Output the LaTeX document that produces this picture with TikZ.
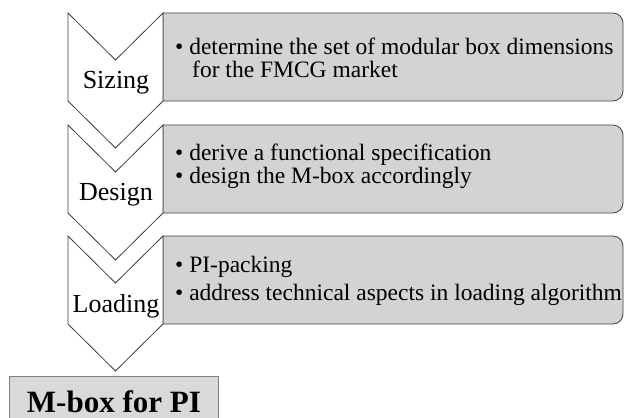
\documentclass[tikz,border=0pt]{standalone}
\usepackage{fontspec}
\setmainfont{Liberation Serif}
\definecolor{panelgray}{RGB}{211,211,211}
\definecolor{linegray}{RGB}{64,64,64}
\definecolor{resultgray}{RGB}{217,217,217}

\begin{document}
\begin{tikzpicture}[x=1pt,y=-1pt,
    chev/.style={draw=linegray,fill=white,line width=0.8pt,line join=miter},
    panel/.style={draw=linegray,fill=panelgray,line width=0.8pt},
    stage/.style={inner sep=0pt,anchor=base,font=\fontsize{26}{26}\selectfont},
    item/.style={inner sep=0pt,anchor=base west,font=\fontsize{23.5}{23.5}\selectfont}]
    \useasboundingbox (0,0) rectangle (625,418);
    \clip (0,0) rectangle (625,418);

    \draw[panel] (163,13) [rounded corners=10] -- (623,13) -- (623,101) [sharp corners] -- (163,101) -- cycle;
    \draw[panel] (163,125) [rounded corners=10] -- (623,125) -- (623,213) [sharp corners] -- (163,213) -- cycle;
    \draw[panel] (163,236) [rounded corners=10] -- (623,236) -- (623,324) [sharp corners] -- (163,324) -- cycle;

    \foreach \top in {13,125,236}
        \draw[chev] (68,\top) -- (115.5,\top+47) -- (163,\top) -- (163,\top+88)
            -- (115.5,\top+135) -- (68,\top+88) -- cycle;

    \node (sizing) [stage] at (116,88) {Sizing};
    \node (design) [stage] at (116,200) {Design};
    \node (loading) [stage] at (116,312) {Loading};

    \node (size_a) [item] at (175,54) {\textbullet\ determine the set of modular box dimensions};
    \node (size_b) [item] at (192,77) {for the FMCG market};

    \node (design_a) [item] at (175,160) {\textbullet\ derive a functional specification};
    \node (design_b) [item] at (175,183) {\textbullet\ design the M-box accordingly};

    \node (load_a) [item] at (175,272) {\textbullet\ PI-packing};
    \node (load_b) [item] at (175,300) {\textbullet\ address technical aspects in loading algorithm};

    \node (mbox) [draw=gray,fill=resultgray,line width=0.8pt,anchor=north west,
        minimum width=209,text height=22,text depth=40,inner ysep=14,
        font=\fontsize{31}{31}\selectfont\bfseries] at (9,376) {M-box for PI};
\end{tikzpicture}
\end{document}
